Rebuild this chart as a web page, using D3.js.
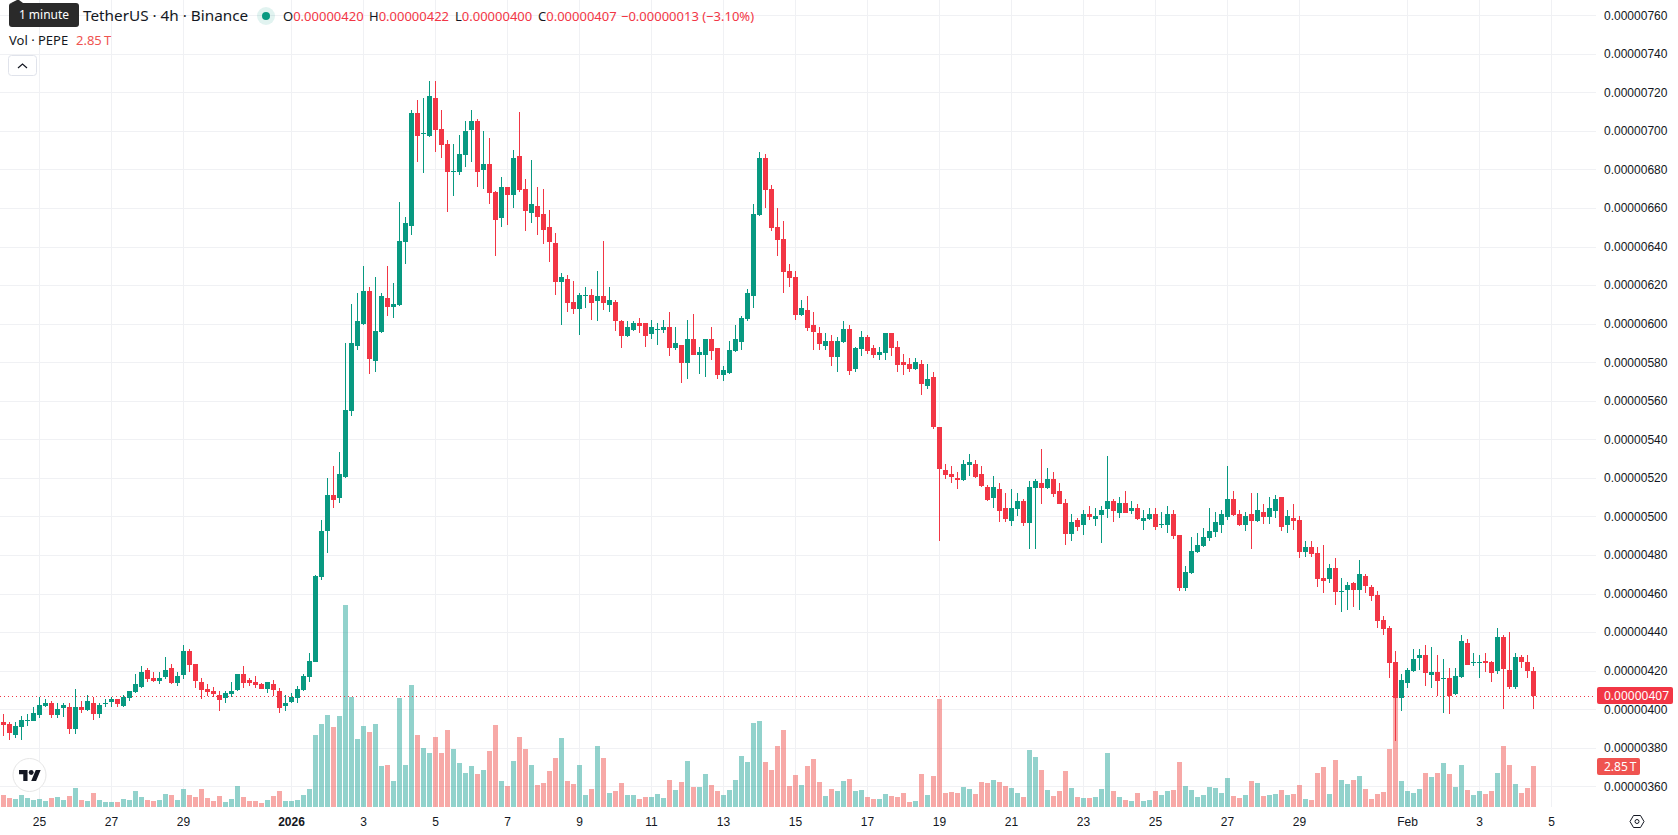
<!DOCTYPE html>
<html>
<head>
<meta charset="utf-8">
<title>PEPE / TetherUS 4h</title>
<script src="https://cdn.jsdelivr.net/npm/d3@7/dist/d3.min.js"></script>
<style>
  html, body { margin: 0; padding: 0; background: #fff; overflow: hidden; }
  svg { display: block; font-family: "Noto Sans", "Open Sans", sans-serif; }
  .axis text { fill: #131722; font-size: 12px; }
</style>
</head>
<body>
<svg id="chart" width="1678" height="835"></svg>
<script>
// Candle prices are in units of 0.00000001 USDT, volumes in trillions of PEPE.
const opens = [393.4,392.3,386.6,390.8,393.9,393.9,397.0,401.7,403.2,397.0,400.6,401.1,389.7,401.1,399.6,403.2,397.5,402.7,403.7,405.3,401.7,405.8,408.9,411.5,420.3,416.2,414.6,416.7,421.4,413.6,417.7,430.2,423.4,414.1,410.5,409.4,407.4,405.8,407.9,410.0,418.3,415.1,414.1,413.1,410.5,413.1,409.4,401.7,403.7,405.8,410.0,416.7,
424.5,468.6,492.4,511.1,509.6,520.5,554.7,588.4,599.8,616.9,580.6,595.7,613.3,608.6,609.7,642.4,650.7,709.3,698.4,697.4,717.1,701.0,693.2,678.7,678.7,687.5,700.5,705.1,679.7,682.8,668.3,654.8,670.9,666.7,687.0,669.9,657.4,661.0,656.9,650.1,641.8,621.6,623.2,611.2,607.6,
614.4,614.9,611.8,614.4,609.7,611.3,601.4,593.6,596.7,600.4,600.4,594.7,596.7,596.7,598.3,587.4,589.0,579.6,592.1,583.8,583.8,592.1,587.4,573.4,574.4,585.8,590.5,602.4,614.4,656.4,686.0,669.9,650.2,644.0,627.3,624.2,604.5,607.1,599.3,595.2,588.4,591.0,582.7,590.5,597.3,576.5,586.9,593.1,587.4,583.8,584.8,595.2,587.9,580.1,579.1,576.5,579.1,
567.7,572.4,546.4,524.1,522.1,520.0,518.9,526.7,527.2,522.1,515.3,509.6,514.3,504.4,497.7,503.9,508.0,496.6,514.8,517.4,514.8,519.5,513.2,507.0,490.9,498.2,495.6,501.3,498.7,500.8,503.9,508.0,501.8,507.0,502.9,504.4,497.7,498.7,501.3,495.6,495.6,501.3,490.4,462.9,470.7,481.6,484.7,488.8,492.0,495.6,499.7,509.1,501.3,495.6,501.3,497.7,502.3,499.7,502.9,510.1,495.6,499.2,498.2,
481.5,484.1,481.0,468.0,467.5,473.2,460.8,461.8,465.4,461.8,469.1,463.4,459.2,446.3,442.1,424.5,405.8,413.6,419.8,426.5,428.1,417.7,419.3,415.6,416.2,407.9,416.7,434.3,423.9,423.9,425.0,424.5,419.8,437.4,420.3,411.5,427.1,424.5,420.0];
const highs = [397.5,393.4,393.4,396.5,397.5,401.1,406.3,405.3,404.3,403.2,403.2,403.2,410.5,404.3,407.4,406.3,403.2,405.3,406.3,405.3,407.4,409.4,418.3,422.4,421.4,419.3,419.3,427.1,423.4,419.3,433.3,431.2,423.4,416.2,413.1,411.5,409.4,409.4,414.1,418.3,422.4,416.2,417.2,413.6,414.1,415.1,411.0,407.4,408.4,412.0,418.3,429.2,
469.6,498.2,519.9,526.2,533.4,590.0,610.2,615.9,629.9,619.0,624.2,615.9,629.9,621.1,663.1,655.3,710.8,716.0,717.1,725.9,725.9,710.8,695.3,693.2,697.9,705.1,710.8,706.2,700.0,696.3,668.8,676.1,670.9,690.1,709.8,675.0,684.9,670.9,669.9,659.0,647.0,626.3,625.2,622.1,615.9,
619.0,618.0,627.3,642.9,619.0,612.3,601.9,601.4,601.4,603.0,600.4,601.9,600.4,601.9,606.1,598.3,589.0,601.9,605.0,587.9,592.1,598.3,587.4,578.1,591.0,599.3,604.0,618.0,662.1,689.1,688.0,672.0,660.0,653.3,631.0,627.3,612.3,614.4,606.1,598.3,595.2,594.1,593.1,601.4,599.3,587.9,596.2,594.1,589.0,587.9,595.2,595.2,591.0,584.3,582.2,582.2,581.2,
579.1,575.0,546.4,527.2,526.2,523.1,529.3,532.4,529.3,526.2,516.3,521.0,517.4,512.2,514.3,512.2,509.1,518.4,519.5,535.0,525.2,523.1,517.4,509.1,501.3,499.2,503.4,505.5,504.4,505.5,531.4,509.1,510.1,513.2,508.0,506.5,503.4,504.4,504.4,502.3,505.5,503.4,490.4,474.3,489.4,491.4,494.0,504.4,502.3,503.4,526.2,513.2,503.4,502.3,512.2,512.2,506.5,510.1,511.2,510.1,503.4,506.5,500.3,
487.2,487.2,484.1,485.2,475.3,478.4,468.0,466.0,466.0,477.4,470.1,464.4,461.3,448.3,443.1,430.2,418.2,421.3,431.2,431.2,433.3,432.2,428.1,426.0,421.3,421.3,438.5,436.4,429.1,428.1,429.1,425.0,442.1,438.5,440.0,429.1,428.1,428.1,422.0];
const lows = [386.1,384.0,385.0,384.0,391.3,393.9,395.4,401.1,395.4,395.4,396.0,387.1,387.1,398.0,399.1,394.4,395.4,401.1,401.1,401.1,401.1,404.3,408.4,411.0,414.1,414.1,413.1,415.7,413.1,412.0,415.7,419.3,411.0,405.3,406.8,406.3,399.1,403.2,406.3,409.4,411.0,412.0,411.0,410.5,408.4,406.8,398.0,399.1,403.2,403.2,409.4,414.1,
424.3,467.0,481.0,504.4,507.0,519.9,552.1,586.3,599.3,573.9,574.9,595.2,604.0,602.9,609.2,630.9,646.0,683.9,678.2,696.8,689.1,685.9,657.9,666.2,677.1,681.3,683.9,670.9,669.9,662.1,635.1,650.1,651.2,660.0,668.3,648.1,652.2,646.0,641.3,632.0,614.9,599.3,606.0,605.0,594.1,
608.2,601.9,601.4,607.1,606.1,596.2,587.4,593.1,596.2,595.2,587.9,592.1,589.0,595.2,583.2,586.4,569.2,571.3,583.8,573.9,572.4,581.2,571.3,570.3,573.9,585.3,586.4,601.4,608.2,655.9,660.0,648.1,635.1,615.9,619.0,601.9,604.0,596.2,586.4,586.4,586.4,578.1,575.0,590.0,573.4,575.0,583.2,584.3,582.2,581.2,581.2,583.2,575.0,573.4,575.0,576.0,563.0,
566.2,545.4,487.3,519.5,517.4,514.3,518.4,521.0,520.0,515.3,508.0,504.4,497.2,497.2,495.1,500.3,495.1,483.1,483.1,506.5,514.3,510.1,506.5,485.2,487.3,492.5,490.4,498.2,495.1,486.3,499.2,497.2,499.2,501.8,501.3,498.2,493.0,498.2,493.0,494.0,491.4,488.3,461.4,461.4,470.2,481.1,484.2,487.3,489.4,491.4,498.2,500.3,495.1,492.5,483.1,497.2,496.1,496.1,499.2,492.5,491.4,493.0,478.5,
478.9,478.9,463.4,460.3,465.4,454.0,450.4,451.4,453.0,451.4,460.3,456.1,442.1,438.5,416.2,383.5,399.0,411.0,419.3,420.3,412.0,411.0,406.8,398.0,397.5,407.3,416.2,422.9,422.4,416.2,419.3,414.1,418.2,400.1,410.5,410.5,421.3,416.2,400.0];
const closes = [391.8,387.6,391.3,394.4,394.4,398.0,402.2,403.2,397.0,400.1,402.2,389.7,401.1,399.6,404.3,397.5,402.2,403.2,405.3,402.7,406.3,409.4,413.1,419.3,415.7,414.6,416.2,420.3,413.6,417.2,430.2,422.9,414.6,410.0,408.9,407.9,404.8,408.4,409.4,418.3,413.6,413.6,412.6,410.5,414.1,410.0,400.6,403.2,406.3,410.5,417.2,425.0,
469.1,492.4,511.1,508.5,522.0,555.2,590.0,601.4,616.9,581.7,596.2,614.3,608.6,610.2,642.9,652.2,709.3,697.4,698.9,718.1,700.5,692.7,678.7,679.2,688.0,700.0,705.1,678.7,682.8,667.8,653.8,670.9,666.7,685.9,669.3,658.4,662.1,655.3,648.6,642.4,621.6,624.2,610.7,607.6,615.0,
614.9,610.7,614.4,610.7,612.3,601.4,593.6,598.3,600.4,598.8,593.6,598.3,597.3,598.3,587.4,590.0,579.6,592.1,583.8,585.3,592.1,585.8,573.4,576.0,586.4,592.1,603.0,615.9,656.9,686.0,669.4,649.7,643.4,626.8,623.7,604.5,608.2,597.8,595.7,589.5,591.0,582.7,591.0,597.3,575.5,587.4,593.1,585.8,583.8,585.3,595.2,587.4,578.6,578.6,576.5,580.1,568.7,
571.3,546.4,524.6,521.5,520.5,518.9,527.2,528.3,520.5,515.8,508.6,515.3,502.9,498.7,504.4,508.0,496.6,515.3,518.4,514.8,519.5,511.7,506.5,490.9,497.2,494.6,501.3,499.7,500.3,503.4,508.0,502.9,507.0,501.8,504.4,498.7,499.2,501.3,494.6,496.1,501.3,489.9,462.9,471.2,482.1,485.2,489.4,492.5,497.2,501.3,509.1,500.8,495.6,500.3,497.7,503.4,499.7,504.4,509.1,494.6,500.3,497.7,481.6,
484.1,480.5,467.5,466.5,473.2,460.8,461.3,464.4,461.8,470.1,463.9,458.7,445.7,441.6,423.9,405.8,415.1,420.3,426.0,428.1,418.8,419.3,414.6,416.2,406.8,417.2,435.4,422.9,424.5,424.5,423.9,418.8,437.4,420.8,411.5,427.1,424.5,419.8,407.0];
const volumes = [.83,.63,.56,.83,.63,.49,.56,.42,.63,.70,.49,.76,1.32,.49,.42,.97,.49,.35,.35,.35,.56,.49,1.11,.70,.49,.42,.49,.90,.83,.49,1.25,.83,.70,1.25,.63,.42,.76,.35,.56,1.46,.70,.42,.42,.28,.49,.76,1.11,.42,.42,.49,.83,1.25,
5.00,5.77,6.39,5.56,6.32,14.04,7.65,4.73,5.63,5.21,5.77,2.85,2.92,1.81,7.58,2.92,8.48,5.00,4.10,3.75,4.87,3.75,5.35,4.03,3.06,2.36,2.85,2.29,2.57,3.89,5.70,1.81,1.46,3.20,4.87,4.03,2.92,1.53,1.67,2.50,3.41,4.80,1.81,1.60,2.92,
.83,1.25,4.24,3.41,.97,1.11,1.67,.83,.83,.56,.70,.70,.90,.63,1.88,1.18,1.74,3.20,1.39,1.39,2.29,1.53,1.11,.83,1.18,1.88,3.54,3.13,5.84,5.98,3.13,2.57,4.24,5.35,1.46,2.22,1.53,2.85,3.34,1.74,.76,1.25,1.11,1.81,1.95,1.11,1.18,.70,.56,.56,.90,.76,.70,.97,.35,.42,2.29,.83,2.15,7.51,
.97,1.04,.97,1.39,1.25,.90,1.74,1.67,1.88,1.74,1.46,1.32,.97,.70,3.96,3.48,2.57,1.18,.76,1.11,2.50,1.32,.70,.63,.63,.70,1.25,3.75,1.11,.70,.49,.42,.97,.42,.49,1.11,.83,1.11,1.18,3.13,1.46,1.18,.70,.83,1.39,1.32,.97,2.02,.76,.63,.83,1.81,1.67,.76,.83,.90,1.18,.83,.90,1.53,
.56,.49,2.36,2.78,.90,3.27,1.88,1.60,1.88,2.15,1.25,.56,.90,1.04,4.03,7.99,1.81,1.11,.97,1.25,2.36,2.09,2.36,3.06,2.29,1.39,2.92,1.18,.83,1.11,.90,1.11,2.36,4.24,2.92,1.60,.97,1.32,2.85];

const priceTicks = [360,380,400,420,440,460,480,500,520,540,560,580,600,620,640,660,680,700,720,740,760];
const timeTickDates = ["2025-12-25","2025-12-27","2025-12-29","2026-01-01","2026-01-03","2026-01-05","2026-01-07","2026-01-09","2026-01-11","2026-01-13","2026-01-15","2026-01-17","2026-01-19","2026-01-21","2026-01-23","2026-01-25","2026-01-27","2026-01-29","2026-02-01","2026-02-03","2026-02-05"];
const timeTickLabels = ["25","27","29","2026","3","5","7","9","11","13","15","17","19","21","23","25","27","29","Feb","3","5"];

const firstCandle = Date.UTC(2025, 11, 24);
const stepMs = 4 * 3600 * 1000;
const candles = closes.map((c, i) => ({
  t: new Date(firstCandle + i * stepMs),
  o: opens[i], h: highs[i], l: lows[i], c, v: volumes[i]
}));
const last = candles[candles.length - 1];

const GREEN = "#089981", RED = "#f23645", VOL_RED = "#ef5350";
const plotRight = 1596, plotBottom = 807;

const x = d3.scaleUtc()
  .domain([new Date(firstCandle), last.t])
  .range([3.5, 1533.5]);
const y = d3.scaleLinear().domain([360, 760]).range([786.3, 15.3]);
const yVol = d3.scaleLinear().domain([0, 14]).range([plotBottom, plotBottom - 201.4]);
const crisp = v => Math.round(v);
const fmtPrice = p => (p / 1e8).toFixed(8);
const upDown = d => d.c >= d.o;
const volLabel = v => v.toFixed(2) + "\u2009T";

const svg = d3.select("#chart");

// Grid
const grid = svg.append("g").attr("stroke", "#f0f1f4").attr("shape-rendering", "crispEdges");
grid.selectAll("line.h").data(priceTicks).join("line")
  .attr("x1", 0).attr("x2", plotRight)
  .attr("y1", d => crisp(y(d)) + 0.5).attr("y2", d => crisp(y(d)) + 0.5);
grid.selectAll("line.v").data(timeTickDates).join("line")
  .attr("y1", 0).attr("y2", plotBottom)
  .attr("x1", d => x(new Date(d + "T00:00:00Z"))).attr("x2", d => x(new Date(d + "T00:00:00Z")));

// Volume histogram
svg.append("g").attr("shape-rendering", "crispEdges")
  .selectAll("rect").data(candles).join("rect")
  .attr("x", d => x(d.t) - 2.5).attr("width", 5)
  .attr("y", d => crisp(yVol(d.v)))
  .attr("height", d => plotBottom - crisp(yVol(d.v)))
  .attr("fill", d => upDown(d) ? "#26a69a" : VOL_RED)
  .attr("fill-opacity", 0.5);

// Last price line
svg.append("line")
  .attr("x1", 0).attr("x2", plotRight)
  .attr("y1", crisp(y(last.c)) + 0.5).attr("y2", crisp(y(last.c)) + 0.5)
  .attr("stroke", RED).attr("stroke-width", 1).attr("stroke-dasharray", "1 3");

// Candles
const candle = svg.append("g").attr("shape-rendering", "crispEdges")
  .selectAll("g").data(candles).join("g");
candle.append("rect")
  .attr("x", d => x(d.t) - 0.5).attr("width", 1)
  .attr("y", d => crisp(y(d.h)))
  .attr("height", d => Math.max(1, crisp(y(d.l)) - crisp(y(d.h))))
  .attr("fill", d => upDown(d) ? GREEN : RED);
candle.append("rect")
  .attr("x", d => x(d.t) - 2.5).attr("width", 5)
  .attr("y", d => crisp(y(Math.max(d.o, d.c))))
  .attr("height", d => Math.max(1, crisp(y(Math.min(d.o, d.c))) - crisp(y(Math.max(d.o, d.c)))))
  .attr("fill", d => upDown(d) ? GREEN : RED);

// Price axis
const yAxis = svg.append("g").attr("class", "axis")
  .attr("transform", `translate(${plotRight},0)`)
  .call(d3.axisRight(y).tickValues(priceTicks).tickFormat(fmtPrice).tickSize(0).tickPadding(8));
yAxis.select(".domain").remove();

// Time axis
const tickDates = timeTickDates.map(d => new Date(d + "T00:00:00Z"));
const xAxis = svg.append("g").attr("class", "axis")
  .attr("transform", `translate(-0.5,${plotBottom})`)
  .call(d3.axisBottom(x).tickValues(tickDates)
    .tickFormat((d, i) => timeTickLabels[i]).tickSize(0).tickPadding(10));
xAxis.select(".domain").remove();
xAxis.selectAll("text").style("font-weight", (d, i) => timeTickLabels[i] === "2026" ? 700 : 400);

// Last price and volume tags on the axis
const tag = (tx, ty, w, h, fill, label) => {
  svg.append("rect").attr("x", tx).attr("y", ty).attr("width", w).attr("height", h)
    .attr("rx", 2).attr("fill", fill);
  svg.append("text").attr("x", tx + 7).attr("y", ty + h / 2).attr("dy", "0.35em")
    .attr("fill", "#fff").attr("font-size", 12).text(label);
};
tag(plotRight + 1, crisp(y(last.c)) - 9, 76, 17, RED, fmtPrice(last.c));
tag(plotRight + 1, 758, 43, 17, VOL_RED, volLabel(last.v));

// Legend rows
svg.append("text").attr("x", 83).attr("y", 21).attr("font-size", 15.3).attr("fill", "#131722")
  .text("TetherUS · 4h · Binance");
svg.append("circle").attr("cx", 266).attr("cy", 16).attr("r", 9).attr("fill", GREEN).attr("fill-opacity", 0.12);
svg.append("circle").attr("cx", 266).attr("cy", 16).attr("r", 4).attr("fill", GREEN);

const change = last.c - last.o;
const ohlc = [
  ["O", last.o, 283], ["H", last.h, 369], ["L", last.l, 455], ["C", last.c, 538]
];
ohlc.forEach(([k, v, px]) => {
  const t = svg.append("text").attr("x", px).attr("y", 21).attr("font-size", 13);
  t.append("tspan").attr("fill", "#131722").text(k);
  t.append("tspan").attr("fill", RED).text(fmtPrice(v));
});
svg.append("text").attr("x", 621).attr("y", 21).attr("font-size", 13).attr("fill", RED)
  .text(`\u2212${fmtPrice(-change)} (\u2212${(-change / last.o * 100).toFixed(2)}%)`);

svg.append("text").attr("x", 9).attr("y", 45).attr("font-size", 13).attr("fill", "#131722").text("Vol · PEPE");
svg.append("text").attr("x", 76).attr("y", 45).attr("font-size", 13).attr("fill", VOL_RED)
  .text(volLabel(last.v));

// Collapse button
svg.append("rect").attr("x", 8.5).attr("y", 55.5).attr("width", 28).attr("height", 20).attr("rx", 3)
  .attr("fill", "#fff").attr("stroke", "#e0e3eb");
svg.append("path").attr("d", "M18 68l4.5-4 4.5 4").attr("fill", "none").attr("stroke", "#131722").attr("stroke-width", 1.2);

// Tooltip over the symbol name
svg.append("path").attr("d", "M11 3L17 0h2l4 3z").attr("fill", "#2a2a2a");
svg.append("rect").attr("x", 9).attr("y", 3).attr("width", 70).attr("height", 24).attr("rx", 3).attr("fill", "#2a2a2a");
svg.append("text").attr("x", 44).attr("y", 15).attr("dy", "0.35em").attr("text-anchor", "middle")
  .attr("font-size", 12).attr("fill", "#fff").text("1 minute");

// Watermark logo
svg.append("circle").attr("cx", 29.5).attr("cy", 775).attr("r", 16.5)
  .attr("fill", "#fff").attr("stroke", "#e6e6e6").attr("stroke-width", 1);
const logo = svg.append("g").attr("transform", "translate(19,767.6) scale(0.61)").attr("fill", "#131722");
logo.append("path").attr("d", "M14 22H7V11H0V4h14v18zM28 22h-8l7.5-18h8L28 22z");
logo.append("circle").attr("cx", 20).attr("cy", 8).attr("r", 4);

// Settings icon in the bottom-right corner
const gear = svg.append("g").attr("transform", "translate(1637,821.5)").attr("fill", "none").attr("stroke", "#131722");
gear.append("path").attr("d", "M-7 0L-3.5-6h7L7 0L3.5 6h-7z");
gear.append("circle").attr("r", 2);
</script>
</body>
</html>
